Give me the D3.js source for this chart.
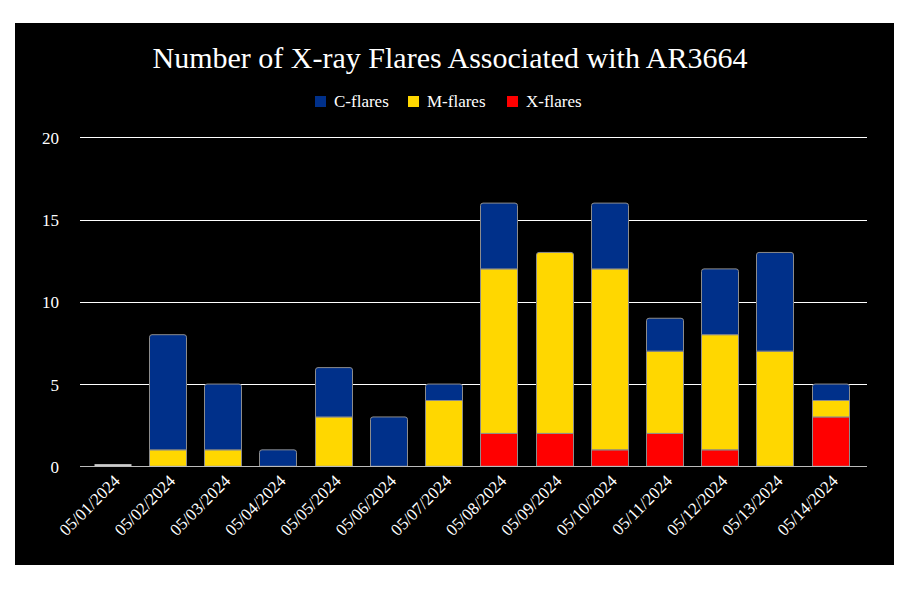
<!DOCTYPE html>
<html>
<head>
<meta charset="utf-8">
<script src="https://cdn.jsdelivr.net/npm/d3@7"></script>
<style>
html,body{margin:0;padding:0;background:#fff;}
svg{display:block;}
</style>
</head>
<body>
<svg id="chart" width="914" height="589"></svg>
<script>
const dates = ["05/01/2024","05/02/2024","05/03/2024","05/04/2024","05/05/2024","05/06/2024","05/07/2024","05/08/2024","05/09/2024","05/10/2024","05/11/2024","05/12/2024","05/13/2024","05/14/2024"];
const xFlares = [0,0,0,0,0,0,0,2,2,1,2,1,0,3];
const mFlares = [0,1,1,0,3,0,4,10,11,11,5,7,7,1];
const cFlares = [0,7,4,1,3,3,1,4,0,4,2,4,6,1];
const seriesNames = ["X-flares","M-flares","C-flares"];
const legendOrder = ["C-flares","M-flares","X-flares"];
const colors = {"C-flares":"#00308A","M-flares":"#FFD700","X-flares":"#FF0000"};
const yTicks = [0,5,10,15,20];
const title = "Number of X-ray Flares Associated with AR3664";

const svg = d3.select("#chart");
const font = "'Liberation Serif','Times New Roman',serif";

svg.append("rect").attr("x",15).attr("y",23).attr("width",879).attr("height",542).attr("fill","#000");

const x = d3.scaleBand().domain(dates).range([84.4, 857.6]).paddingInner(0.337).paddingOuter(0.17);
const y = d3.scaleLinear().domain([0,20]).range([466.3,137.3]);

// grid
svg.append("g").selectAll("line").data(yTicks.filter(t=>t>0)).join("line")
  .attr("x1",80).attr("x2",867).attr("y1",d=>Math.round(y(d))+0.5).attr("y2",d=>Math.round(y(d))+0.5)
  .attr("stroke","#fff").attr("stroke-width",1);

const yAxis = d3.axisLeft(y).tickValues(yTicks).tickSize(0).tickPadding(0);
const gy = svg.append("g").attr("transform","translate(59,0)").call(yAxis);
gy.select(".domain").remove();
gy.selectAll("text").attr("fill","#fff").attr("font-family",font).attr("font-size",17).attr("dy","0.35em");

// stacked data
const rows = dates.map((d,i)=>({date:d,"X-flares":xFlares[i],"M-flares":mFlares[i],"C-flares":cFlares[i]}));
const stack = d3.stack().keys(seriesNames)(rows);
const topKey = rows.map(r=>{let k=null; seriesNames.forEach(s=>{if(r[s]>0)k=s;}); return k;});

function segPath(x0,y0,w,y1,round){
  const h=y1-y0; const r=round?Math.min(2.5,h):0;
  return `M${x0},${y1}V${y0+r}Q${x0},${y0} ${x0+r},${y0}H${x0+w-r}Q${x0+w},${y0} ${x0+w},${y0+r}V${y1}Z`;
}

const gBars = svg.append("g");
stack.forEach(layer=>{
  const key = layer.key;
  gBars.append("g").selectAll("path").data(layer.filter(d=>d[1]-d[0]>0)).join("path")
    .attr("d",d=>{
      const i = dates.indexOf(d.data.date);
      const x0 = Math.round(x(d.data.date))+0.5;
      const w = Math.round(x.bandwidth());
      return segPath(x0, y(d[1]), w, y(d[0]), topKey[i]===key);
    })
    .attr("fill",colors[key]).attr("stroke","#8c8c8c").attr("stroke-width",1);
});
// zero-value bars drawn as thin line
gBars.append("g").selectAll("rect").data(rows.filter(r=>topKey[rows.indexOf(r)]===null)).join("rect")
  .attr("x",d=>Math.round(x(d.date))+0.5).attr("y",y(0)-2).attr("width",Math.round(x.bandwidth())).attr("height",1.5)
  .attr("fill","#fff");

// baseline
svg.append("line").attr("x1",80).attr("x2",867).attr("y1",466.5).attr("y2",466.5).attr("stroke","#bbb").attr("stroke-width",1);

// x axis labels
const xAxis = d3.axisBottom(x).tickSize(0).tickPadding(0);
const gx = svg.append("g").attr("transform","translate(0,466)").call(xAxis);
gx.select(".domain").remove();
gx.selectAll("text").attr("fill","#fff").attr("font-family",font).attr("font-size",17)
  .attr("text-anchor","end").attr("dy",0)
  .attr("transform","translate(9,16) rotate(-45)");

// title
svg.append("text").attr("x",450).attr("y",68).attr("text-anchor","middle").attr("fill","#fff")
  .attr("font-family",font).attr("font-size",30).text(title);

// legend
const legendX = [315,408,507];
const lg = svg.append("g");
legendOrder.forEach((k,i)=>{
  lg.append("rect").attr("x",legendX[i]).attr("y",96).attr("width",11).attr("height",11).attr("fill",colors[k]);
  lg.append("text").attr("x",legendX[i]+19).attr("y",106.5).attr("fill","#fff").attr("font-family",font).attr("font-size",17).text(k);
});
</script>
</body>
</html>
